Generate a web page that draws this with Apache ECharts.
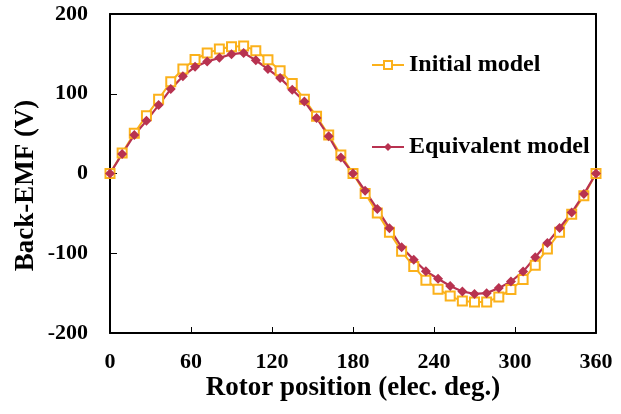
<!DOCTYPE html>
<html>
<head>
<meta charset="utf-8">
<script src="https://cdn.jsdelivr.net/npm/echarts@6/dist/echarts.min.js"></script>
<style>html,body{margin:0;padding:0;background:#fff;}#c{width:621px;height:414px;}</style>
</head>
<body>
<div id="c"></div>
<script>
var angles = [0,9,18,27,36,45,54,63,72,81,90,99,108,117,126,135,144,153,162,171,180,189,198,207,216,225,234,243,252,261,270,279,288,297,306,315,324,333,342,351,360];
var initialModel = [0,25.8,50.4,72.5,93,115,131,143,151,156,159,160,154,142.5,128.8,113,93,71.7,48.3,23.3,0,-25,-49.6,-73.8,-97.5,-116.7,-134,-145,-153.7,-160,-161,-161,-155,-145.4,-133,-115,-94.6,-73.8,-51,-27.9,0];
var equivalentModel = [0,24.6,48.3,66,85.8,105.8,122,133.7,140.4,145,149.6,151.2,142,131,119.6,105,90.4,69.6,46.7,20,0,-21.7,-44.6,-68.8,-92.5,-108,-122.5,-132,-141,-148,-151,-150,-143.7,-135.4,-123,-105,-87,-68.3,-49,-25.8,0];
var xTicks = [0,60,120,180,240,300,360];
var yTicks = [-200,-100,0,100,200];
var seriesNames = ['Initial model','Equivalent model'];

function pairs(xs, ys){ return xs.map(function(x,i){ return [x, ys[i]]; }); }

var font = 'Liberation Serif';
var chart = echarts.init(document.getElementById('c'), null, {renderer:'canvas'});
chart.setOption({
  animation:false,
  backgroundColor:'#fff',
  grid:{left:110, right:25, top:14, bottom:81, containLabel:false},
  legend:[
    {data:[seriesNames[0]], left:366, top:48, itemWidth:32, itemHeight:10, itemGap:0,
     textStyle:{fontFamily:font, fontWeight:'bold', fontSize:24, color:'#000', lineHeight:24}},
    {data:[seriesNames[1]], left:366, top:130, itemWidth:32, itemHeight:10, itemGap:0,
     textStyle:{fontFamily:font, fontWeight:'bold', fontSize:24, color:'#000', lineHeight:24}}
  ],
  xAxis:[
    {type:'value', min:xTicks[0], max:xTicks[xTicks.length-1], interval:60, position:'bottom',
     name:'Rotor position (elec. deg.)', nameLocation:'middle', nameGap:42, nameMoveOverlap:false,
     nameTextStyle:{fontFamily:font, fontWeight:'bold', fontSize:27, color:'#000'},
     axisLine:{onZero:false, lineStyle:{color:'#000', width:2}},
     axisTick:{inside:true, length:6, lineStyle:{color:'#000', width:1}},
     axisLabel:{margin:18, fontFamily:font, fontWeight:'bold', fontSize:22, color:'#000'},
     splitLine:{show:false}},
    {type:'value', min:xTicks[0], max:xTicks[xTicks.length-1], position:'top',
     axisLine:{onZero:false, lineStyle:{color:'#000', width:2}},
     axisTick:{show:false}, axisLabel:{show:false}, splitLine:{show:false}}
  ],
  yAxis:[
    {type:'value', min:yTicks[0], max:yTicks[yTicks.length-1], interval:100, position:'left',
     name:'Back-EMF (V)', nameLocation:'middle', nameGap:70, nameRotate:90, nameMoveOverlap:false,
     nameTextStyle:{fontFamily:font, fontWeight:'bold', fontSize:27, color:'#000', padding:[0,24,0,0]},
     axisLine:{onZero:false, lineStyle:{color:'#000', width:2}},
     axisTick:{inside:true, length:7, lineStyle:{color:'#000', width:1}},
     axisLabel:{margin:22, fontFamily:font, fontWeight:'bold', fontSize:22, color:'#000'},
     splitLine:{show:false}},
    {type:'value', min:yTicks[0], max:yTicks[yTicks.length-1], position:'right',
     axisLine:{onZero:false, lineStyle:{color:'#000', width:2}},
     axisTick:{show:false}, axisLabel:{show:false}, splitLine:{show:false}}
  ],
  series:[
    {name:seriesNames[0], type:'line', data:pairs(angles, initialModel),
     symbol:'emptyRect', symbolSize:9, color:'#FBB11B',
     lineStyle:{color:'#FBB11B', width:2},
     itemStyle:{color:'#FBB11B', borderColor:'#FBB11B', borderWidth:2}},
    {name:seriesNames[1], type:'line', data:pairs(angles, equivalentModel),
     symbol:'diamond', symbolSize:10, color:'#B83250',
     lineStyle:{color:'#B83250', width:2.2},
     itemStyle:{color:'#B83250'}}
  ]
});
</script>
</body>
</html>
